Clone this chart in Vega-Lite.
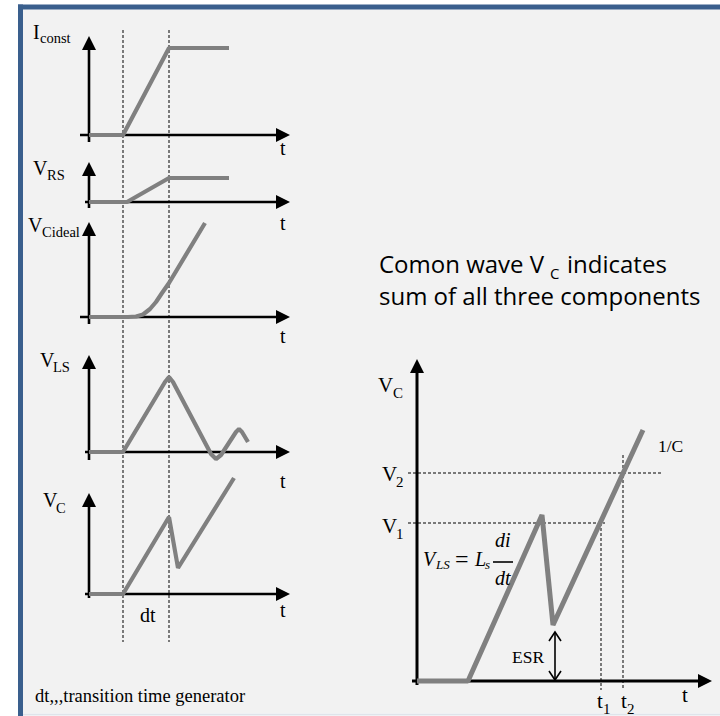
{
  "$schema": "https://vega.github.io/schema/vega-lite/v6.json",
  "width": 720,
  "height": 716,
  "autosize": "none",
  "padding": 0,
  "background": "white",
  "config": {"view": {"stroke": null}},
  "datasets": {
    "frame": [{"x": 23, "y": 9.3, "x2": 720, "y2": 713}],
    "rules": [
      {"g": "blue", "x": 18, "y": 7, "x2": 720, "y2": 7},
      {"g": "blue", "x": 20.5, "y": 4.5, "x2": 20.5, "y2": 716},
      {"g": "edge", "x": 23, "y": 714.5, "x2": 720, "y2": 714.5},
      {"g": "ax", "x": 89, "y": 43, "x2": 89, "y2": 142},
      {"g": "ax", "x": 80, "y": 135, "x2": 283, "y2": 135},
      {"g": "ax", "x": 89, "y": 169, "x2": 89, "y2": 208},
      {"g": "ax", "x": 85, "y": 202, "x2": 283, "y2": 202},
      {"g": "ax", "x": 89, "y": 229, "x2": 89, "y2": 324},
      {"g": "ax", "x": 80, "y": 317, "x2": 283, "y2": 317},
      {"g": "ax", "x": 89, "y": 362, "x2": 89, "y2": 460},
      {"g": "ax", "x": 85, "y": 452, "x2": 283, "y2": 452},
      {"g": "ax", "x": 89, "y": 500, "x2": 89, "y2": 598},
      {"g": "ax", "x": 85, "y": 594, "x2": 283, "y2": 594},
      {"g": "axr", "x": 417, "y": 366, "x2": 417, "y2": 685},
      {"g": "axr", "x": 412, "y": 681, "x2": 705, "y2": 681},
      {"g": "dl", "x": 123, "y": 30, "x2": 123, "y2": 642},
      {"g": "dl", "x": 169, "y": 30, "x2": 169, "y2": 642},
      {"g": "dr", "x": 408, "y": 473, "x2": 662, "y2": 473},
      {"g": "dr", "x": 408, "y": 523, "x2": 605, "y2": 523},
      {"g": "dr", "x": 601, "y": 523, "x2": 601, "y2": 690},
      {"g": "dr", "x": 623, "y": 455, "x2": 623, "y2": 690},
      {"g": "th", "x": 555, "y": 633, "x2": 555, "y2": 679},
      {"g": "th", "x": 493, "y": 562, "x2": 513, "y2": 562}
    ],
    "lines": [
      {"g": "c", "id": "c1", "o": 0, "x": 89, "y": 135},
      {"g": "c", "id": "c1", "o": 1, "x": 123, "y": 135},
      {"g": "c", "id": "c1", "o": 2, "x": 169, "y": 48},
      {"g": "c", "id": "c1", "o": 3, "x": 229, "y": 48},
      {"g": "c", "id": "c2", "o": 0, "x": 89, "y": 202},
      {"g": "c", "id": "c2", "o": 1, "x": 127, "y": 202},
      {"g": "c", "id": "c2", "o": 2, "x": 169, "y": 178},
      {"g": "c", "id": "c2", "o": 3, "x": 229, "y": 178},
      {"g": "c", "id": "c3", "o": 0, "x": 89, "y": 317},
      {"g": "c", "id": "c3", "o": 1, "x": 128, "y": 317},
      {"g": "c", "id": "c3", "o": 2, "x": 136, "y": 316.5},
      {"g": "c", "id": "c3", "o": 3, "x": 143, "y": 314.5},
      {"g": "c", "id": "c3", "o": 4, "x": 150, "y": 309},
      {"g": "c", "id": "c3", "o": 5, "x": 156, "y": 302},
      {"g": "c", "id": "c3", "o": 6, "x": 162, "y": 293},
      {"g": "c", "id": "c3", "o": 7, "x": 169, "y": 283},
      {"g": "c", "id": "c3", "o": 8, "x": 205, "y": 223},
      {"g": "c", "id": "c4", "o": 0, "x": 89, "y": 452},
      {"g": "c", "id": "c4", "o": 1, "x": 123, "y": 452},
      {"g": "c", "id": "c4", "o": 2, "x": 165, "y": 382},
      {"g": "c", "id": "c4", "o": 3, "x": 169, "y": 377},
      {"g": "c", "id": "c4", "o": 4, "x": 173, "y": 382},
      {"g": "c", "id": "c4", "o": 5, "x": 211, "y": 454},
      {"g": "c", "id": "c4", "o": 6, "x": 216, "y": 459},
      {"g": "c", "id": "c4", "o": 7, "x": 221, "y": 455},
      {"g": "c", "id": "c4", "o": 8, "x": 236, "y": 432},
      {"g": "c", "id": "c4", "o": 9, "x": 239, "y": 429},
      {"g": "c", "id": "c4", "o": 10, "x": 242, "y": 432},
      {"g": "c", "id": "c4", "o": 11, "x": 248, "y": 442},
      {"g": "c", "id": "c5", "o": 0, "x": 89, "y": 594},
      {"g": "c", "id": "c5", "o": 1, "x": 123, "y": 594},
      {"g": "c", "id": "c5", "o": 2, "x": 169, "y": 517},
      {"g": "c", "id": "c5", "o": 3, "x": 178, "y": 568},
      {"g": "c", "id": "c5", "o": 4, "x": 234, "y": 478},
      {"g": "cr", "id": "r1", "o": 0, "x": 417, "y": 681},
      {"g": "cr", "id": "r1", "o": 1, "x": 468, "y": 681},
      {"g": "cr", "id": "r1", "o": 2, "x": 542, "y": 515},
      {"g": "cr", "id": "r1", "o": 3, "x": 553, "y": 625},
      {"g": "cr", "id": "r1", "o": 4, "x": 643, "y": 430},
      {"g": "oh", "id": "e1", "o": 0, "x": 549, "y": 641},
      {"g": "oh", "id": "e1", "o": 1, "x": 555, "y": 632},
      {"g": "oh", "id": "e1", "o": 2, "x": 561, "y": 641},
      {"g": "oh", "id": "e2", "o": 0, "x": 549, "y": 671},
      {"g": "oh", "id": "e2", "o": 1, "x": 555, "y": 680},
      {"g": "oh", "id": "e2", "o": 2, "x": 561, "y": 671}
    ],
    "arrows": [
      {"d": "up", "x": 89, "y": 43},
      {"d": "up", "x": 89, "y": 169},
      {"d": "up", "x": 89, "y": 229},
      {"d": "up", "x": 89, "y": 362},
      {"d": "up", "x": 89, "y": 500},
      {"d": "right", "x": 283, "y": 135},
      {"d": "right", "x": 283, "y": 202},
      {"d": "right", "x": 283, "y": 317},
      {"d": "right", "x": 283, "y": 452},
      {"d": "right", "x": 283, "y": 594},
      {"d": "up", "x": 417, "y": 366},
      {"d": "right", "x": 705, "y": 681}
    ],
    "texts": [
      {"k": "lbl", "x": 33, "y": 39, "t": "I"},
      {"k": "sub", "x": 40, "y": 43, "t": "const"},
      {"k": "lbl", "x": 33, "y": 175, "t": "V"},
      {"k": "sub", "x": 47, "y": 180, "t": "RS"},
      {"k": "lbl", "x": 28, "y": 232, "t": "V"},
      {"k": "sub", "x": 42, "y": 237, "t": "Cideal"},
      {"k": "lbl", "x": 40, "y": 367, "t": "V"},
      {"k": "sub", "x": 53, "y": 372, "t": "LS"},
      {"k": "lbl", "x": 43, "y": 507, "t": "V"},
      {"k": "sub", "x": 56, "y": 513, "t": "C"},
      {"k": "lbl", "x": 280, "y": 155, "t": "t"},
      {"k": "lbl", "x": 280, "y": 230, "t": "t"},
      {"k": "lbl", "x": 280, "y": 343, "t": "t"},
      {"k": "lbl", "x": 280, "y": 488, "t": "t"},
      {"k": "lbl", "x": 280, "y": 617, "t": "t"},
      {"k": "lbl", "x": 140, "y": 622, "t": "dt"},
      {"k": "foot", "x": 35, "y": 702, "t": "dt,,,transition time generator"},
      {"k": "rlbl", "x": 378, "y": 392, "t": "V"},
      {"k": "rsub", "x": 393, "y": 398, "t": "C"},
      {"k": "rlbl", "x": 382, "y": 481, "t": "V"},
      {"k": "rsub", "x": 396, "y": 487, "t": "2"},
      {"k": "rlbl", "x": 382, "y": 533, "t": "V"},
      {"k": "rsub", "x": 396, "y": 539, "t": "1"},
      {"k": "rlbl", "x": 597, "y": 708, "t": "t"},
      {"k": "rsub", "x": 603, "y": 714, "t": "1"},
      {"k": "rlbl", "x": 621, "y": 708, "t": "t"},
      {"k": "rsub", "x": 627, "y": 714, "t": "2"},
      {"k": "rlbl", "x": 682, "y": 702, "t": "t"},
      {"k": "note", "x": 512, "y": 663, "t": "ESR"},
      {"k": "note", "x": 658, "y": 452, "t": "1/C"},
      {"k": "title", "x": 379, "y": 273, "t": "Comon wave V"},
      {"k": "tsub", "x": 550, "y": 279, "t": "C"},
      {"k": "title", "x": 567, "y": 273, "t": "indicates"},
      {"k": "title", "x": 379, "y": 305, "t": "sum of all three components"},
      {"k": "math", "x": 423, "y": 566, "t": "V"},
      {"k": "msub", "x": 436, "y": 569, "t": "LS"},
      {"k": "mop", "x": 455, "y": 567, "t": "="},
      {"k": "math", "x": 475, "y": 566, "t": "L"},
      {"k": "msub", "x": 485, "y": 569, "t": "s"},
      {"k": "math", "x": 495, "y": 547, "t": "di"},
      {"k": "math", "x": 495, "y": 585, "t": "dt"}
    ]
  },
  "encoding": {
    "x": {"field": "x", "type": "quantitative", "scale": {"domain": [0, 720], "range": [0, 720]}, "axis": null},
    "y": {"field": "y", "type": "quantitative", "scale": {"domain": [0, 716], "range": [0, 716]}, "axis": null}
  },
  "layer": [
    {"data": {"name": "frame"}, "mark": {"type": "rect", "color": "#f2f2f2"}, "encoding": {"x2": {"field": "x2"}, "y2": {"field": "y2"}}},
    {"data": {"name": "rules"}, "transform": [{"filter": "datum.g === 'blue'"}], "mark": {"type": "rule", "color": "#3a5f8d", "strokeWidth": 5}, "encoding": {"x2": {"field": "x2"}, "y2": {"field": "y2"}}},
    {"data": {"name": "rules"}, "transform": [{"filter": "datum.g === 'edge'"}], "mark": {"type": "rule", "color": "#dfe4ea", "strokeWidth": 2}, "encoding": {"x2": {"field": "x2"}, "y2": {"field": "y2"}}},
    {"data": {"name": "rules"}, "transform": [{"filter": "datum.g === 'dl'"}], "mark": {"type": "rule", "color": "black", "strokeWidth": 1, "strokeDash": [3, 2]}, "encoding": {"x2": {"field": "x2"}, "y2": {"field": "y2"}}},
    {"data": {"name": "rules"}, "transform": [{"filter": "datum.g === 'dr'"}], "mark": {"type": "rule", "color": "black", "strokeWidth": 1, "strokeDash": [3, 2]}, "encoding": {"x2": {"field": "x2"}, "y2": {"field": "y2"}}},
    {"data": {"name": "rules"}, "transform": [{"filter": "datum.g === 'ax'"}], "mark": {"type": "rule", "color": "black", "strokeWidth": 2.6}, "encoding": {"x2": {"field": "x2"}, "y2": {"field": "y2"}}},
    {"data": {"name": "rules"}, "transform": [{"filter": "datum.g === 'axr'"}], "mark": {"type": "rule", "color": "black", "strokeWidth": 3}, "encoding": {"x2": {"field": "x2"}, "y2": {"field": "y2"}}},
    {"data": {"name": "rules"}, "transform": [{"filter": "datum.g === 'th'"}], "mark": {"type": "rule", "color": "black", "strokeWidth": 1.6}, "encoding": {"x2": {"field": "x2"}, "y2": {"field": "y2"}}},
    {"data": {"name": "arrows"}, "transform": [{"filter": "datum.d === 'up'"}], "mark": {"type": "point", "shape": "M0,-1L1,1L-1,1Z", "size": 196, "filled": true, "color": "black", "opacity": 1, "strokeWidth": 0}},
    {"data": {"name": "arrows"}, "transform": [{"filter": "datum.d === 'right'"}], "mark": {"type": "point", "shape": "M1,0L-1,1L-1,-1Z", "size": 196, "filled": true, "color": "black", "opacity": 1, "strokeWidth": 0}},
    {"data": {"name": "lines"}, "transform": [{"filter": "datum.g === 'c'"}], "mark": {"type": "line", "color": "#808080", "strokeWidth": 4.2, "strokeJoin": "bevel", "strokeCap": "butt"}, "encoding": {"detail": {"field": "id"}, "order": {"field": "o", "type": "quantitative"}}},
    {"data": {"name": "lines"}, "transform": [{"filter": "datum.g === 'cr'"}], "mark": {"type": "line", "color": "#808080", "strokeWidth": 5, "strokeJoin": "bevel", "strokeCap": "butt"}, "encoding": {"detail": {"field": "id"}, "order": {"field": "o", "type": "quantitative"}}},
    {"data": {"name": "lines"}, "transform": [{"filter": "datum.g === 'oh'"}], "mark": {"type": "line", "color": "black", "strokeWidth": 1.6, "strokeJoin": "miter"}, "encoding": {"detail": {"field": "id"}, "order": {"field": "o", "type": "quantitative"}}},
    {"data": {"name": "texts"}, "transform": [{"filter": "datum.k === 'lbl'"}], "mark": {"type": "text", "font": "Liberation Serif", "fontSize": 20, "align": "left", "baseline": "alphabetic", "color": "black"}, "encoding": {"text": {"field": "t"}}},
    {"data": {"name": "texts"}, "transform": [{"filter": "datum.k === 'sub'"}], "mark": {"type": "text", "font": "Liberation Serif", "fontSize": 14.5, "align": "left", "baseline": "alphabetic", "color": "black"}, "encoding": {"text": {"field": "t"}}},
    {"data": {"name": "texts"}, "transform": [{"filter": "datum.k === 'foot'"}], "mark": {"type": "text", "font": "Liberation Serif", "fontSize": 18.5, "align": "left", "baseline": "alphabetic", "color": "black"}, "encoding": {"text": {"field": "t"}}},
    {"data": {"name": "texts"}, "transform": [{"filter": "datum.k === 'rlbl'"}], "mark": {"type": "text", "font": "Liberation Serif", "fontSize": 21, "align": "left", "baseline": "alphabetic", "color": "black"}, "encoding": {"text": {"field": "t"}}},
    {"data": {"name": "texts"}, "transform": [{"filter": "datum.k === 'rsub'"}], "mark": {"type": "text", "font": "Liberation Serif", "fontSize": 15, "align": "left", "baseline": "alphabetic", "color": "black"}, "encoding": {"text": {"field": "t"}}},
    {"data": {"name": "texts"}, "transform": [{"filter": "datum.k === 'note'"}], "mark": {"type": "text", "font": "Liberation Serif", "fontSize": 17.5, "align": "left", "baseline": "alphabetic", "color": "black"}, "encoding": {"text": {"field": "t"}}},
    {"data": {"name": "texts"}, "transform": [{"filter": "datum.k === 'title'"}], "mark": {"type": "text", "font": "Open Sans", "fontSize": 24, "align": "left", "baseline": "alphabetic", "color": "black"}, "encoding": {"text": {"field": "t"}}},
    {"data": {"name": "texts"}, "transform": [{"filter": "datum.k === 'tsub'"}], "mark": {"type": "text", "font": "Open Sans", "fontSize": 15, "align": "left", "baseline": "alphabetic", "color": "black"}, "encoding": {"text": {"field": "t"}}},
    {"data": {"name": "texts"}, "transform": [{"filter": "datum.k === 'math'"}], "mark": {"type": "text", "font": "Liberation Serif", "fontStyle": "italic", "fontSize": 20, "align": "left", "baseline": "alphabetic", "color": "black"}, "encoding": {"text": {"field": "t"}}},
    {"data": {"name": "texts"}, "transform": [{"filter": "datum.k === 'msub'"}], "mark": {"type": "text", "font": "Liberation Serif", "fontStyle": "italic", "fontSize": 13, "align": "left", "baseline": "alphabetic", "color": "black"}, "encoding": {"text": {"field": "t"}}},
    {"data": {"name": "texts"}, "transform": [{"filter": "datum.k === 'mop'"}], "mark": {"type": "text", "font": "Liberation Serif", "fontSize": 24, "align": "left", "baseline": "alphabetic", "color": "black"}, "encoding": {"text": {"field": "t"}}}
  ]
}
